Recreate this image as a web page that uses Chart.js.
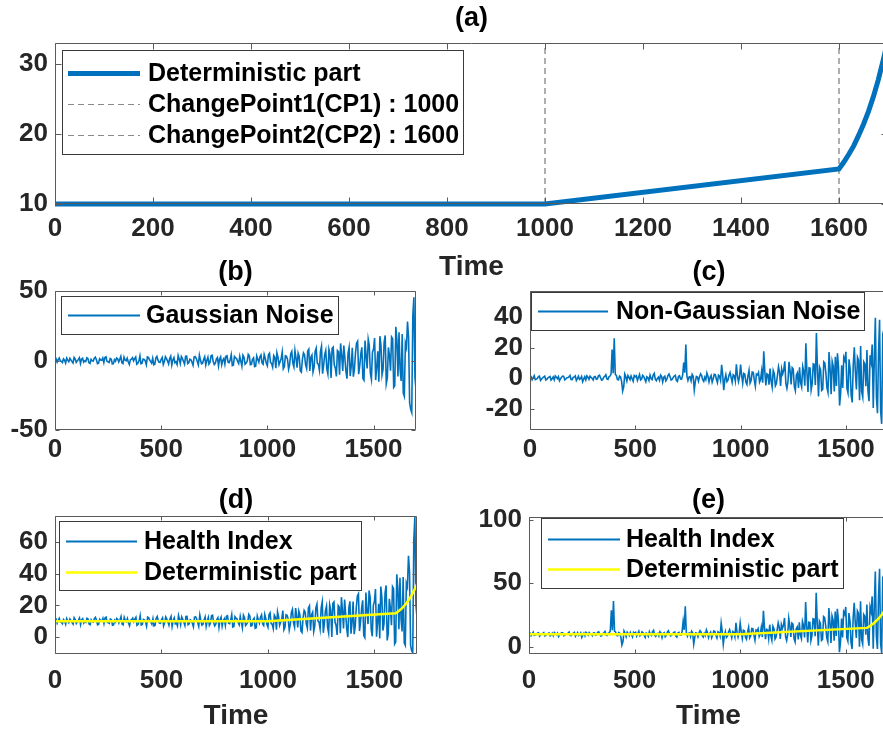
<!DOCTYPE html>
<html>
<head>
<meta charset="utf-8">
<script src="https://cdn.jsdelivr.net/npm/chart.js@4.4.0/dist/chart.umd.min.js"></script>
<style>
html, body { margin: 0; padding: 0; background: #fff; overflow: hidden; width: 883px; height: 733px; }
.panel { position: absolute; }
canvas { display: block; }
</style>
</head>
<body>
<div class="panel" style="left:0px;top:0px"><canvas id="chartA" width="900" height="290"></canvas></div>
<div class="panel" style="left:0px;top:245px"><canvas id="chartB" width="440" height="225"></canvas></div>
<div class="panel" style="left:460px;top:245px"><canvas id="chartC" width="440" height="225"></canvas></div>
<div class="panel" style="left:0px;top:470px"><canvas id="chartD" width="440" height="263"></canvas></div>
<div class="panel" style="left:460px;top:470px"><canvas id="chartE" width="440" height="263"></canvas></div>
<script>
// sampling grid of the noise / health index traces (every 5 time units)
const time = [
    0, 5, 10, 15, 20, 25, 30, 35, 40, 45, 50, 55, 60, 65, 70, 75, 80, 85, 90, 95,
    100, 105, 110, 115, 120, 125, 130, 135, 140, 145, 150, 155, 160, 165, 170, 175, 180, 185, 190, 195,
    200, 205, 210, 215, 220, 225, 230, 235, 240, 245, 250, 255, 260, 265, 270, 275, 280, 285, 290, 295,
    300, 305, 310, 315, 320, 325, 330, 335, 340, 345, 350, 355, 360, 365, 370, 375, 380, 385, 390, 395,
    400, 405, 410, 415, 420, 425, 430, 435, 440, 445, 450, 455, 460, 465, 470, 475, 480, 485, 490, 495,
    500, 505, 510, 515, 520, 525, 530, 535, 540, 545, 550, 555, 560, 565, 570, 575, 580, 585, 590, 595,
    600, 605, 610, 615, 620, 625, 630, 635, 640, 645, 650, 655, 660, 665, 670, 675, 680, 685, 690, 695,
    700, 705, 710, 715, 720, 725, 730, 735, 740, 745, 750, 755, 760, 765, 770, 775, 780, 785, 790, 795,
    800, 805, 810, 815, 820, 825, 830, 835, 840, 845, 850, 855, 860, 865, 870, 875, 880, 885, 890, 895,
    900, 905, 910, 915, 920, 925, 930, 935, 940, 945, 950, 955, 960, 965, 970, 975, 980, 985, 990, 995,
    1000, 1005, 1010, 1015, 1020, 1025, 1030, 1035, 1040, 1045, 1050, 1055, 1060, 1065, 1070, 1075, 1080, 1085, 1090, 1095,
    1100, 1105, 1110, 1115, 1120, 1125, 1130, 1135, 1140, 1145, 1150, 1155, 1160, 1165, 1170, 1175, 1180, 1185, 1190, 1195,
    1200, 1205, 1210, 1215, 1220, 1225, 1230, 1235, 1240, 1245, 1250, 1255, 1260, 1265, 1270, 1275, 1280, 1285, 1290, 1295,
    1300, 1305, 1310, 1315, 1320, 1325, 1330, 1335, 1340, 1345, 1350, 1355, 1360, 1365, 1370, 1375, 1380, 1385, 1390, 1395,
    1400, 1405, 1410, 1415, 1420, 1425, 1430, 1435, 1440, 1445, 1450, 1455, 1460, 1465, 1470, 1475, 1480, 1485, 1490, 1495,
    1500, 1505, 1510, 1515, 1520, 1525, 1530, 1535, 1540, 1545, 1550, 1555, 1560, 1565, 1570, 1575, 1580, 1585, 1590, 1595,
    1600, 1605, 1610, 1615, 1620, 1625, 1630, 1635, 1640, 1645, 1650, 1655, 1660, 1665, 1670, 1675, 1680, 1685, 1690, 1695,
    1700
];

// deterministic part (flat, linear after CP1, exponential after CP2)
const detTime = [0, 1000, 1600, 1610, 1620, 1630, 1640, 1650, 1660, 1670, 1680, 1690, 1700];
const detValue = [10, 10, 15, 16.0, 17.1, 18.3, 19.8, 21.4, 23.2, 25.3, 27.7, 30.5, 33.5];

const changePoints = [1000, 1600];

const gaussianNoise = [
    0.5, 1.3, -1.2, 0.6, 1.8, -0.4, -0.6, -1.5, 1.1, 0.2, -1.9, 1.7, 0.3, -0.9, 1.5, 0.4, -0.8, -1.8, 2.2, 1.1,
    -1.4, -0.3, 0.7, 2.0, -2.1, 0.9, 1.6, -1.2, -0.2, -0.7, 1.9, 1.4, -1.7, -2.2, 0.9, -0.1, -0.5, 1.6, 2.4, 0.5,
    -2.3, -1.9, 1.2, 0.3, 0.1, 1.8, -1.5, 2.1, 2.6, -0.6, -0.9, -1.4, 1.4, 0.9, -2.5, -2.3, 0.6, -0.5, 1.8, 1.2,
    -1.1, 0.8, 2.9, -1.7, -2.2, 2.4, 0.4, -0.2, 1.7, -1.1, -2.8, 0.6, 1.0, 2.0, -0.3, 1.3, 2.5, -2.6, -1.9, -0.4,
    3.4, -2.4, -2.0, 1.1, 0.8, -0.3, -3.1, 2.6, 2.2, 0.5, -0.6, -1.9, 1.6, -3.0, -2.6, 1.8, 3.0, 0.2, -1.2, -1.3,
    0.9, 2.2, -2.9, -0.8, 2.7, 1.3, -0.4, -2.5, 1.5, 3.1, -3.3, 0.4, 2.1, -1.6, -1.0, -2.9, 3.6, 1.0, -2.2, 2.8,
    1.3, -0.6, -2.7, 3.0, 3.1, -2.2, -1.6, 0.9, 0.5, -1.3, -3.5, 2.5, 2.8, 1.6, -0.8, -3.2, 3.9, 0.3, -2.4, -1.9,
    0.7, 2.7, -3.2, 0.1, 2.4, -2.6, -1.3, 3.4, 3.8, -0.8, -2.9, -1.9, 1.1, 2.2, -3.9, 0.9, 2.6, -3.1, 0.2, 1.5,
    -2.6, 3.1, 3.5, -1.2, -1.5, 0.6, 4.2, -3.6, -3.3, 2.9, 1.9, 1.4, -0.7, -2.2, 3.1, -0.5, -4.1, 3.8, 2.3, -2.7,
    -1.8, -0.6, 4.4, 3.3, -3.0, -2.8, 0.9, 1.9, -4.4, -4.1, 3.3, 0.8, -1.2, 2.6, 4.0, -1.7, -2.7, 4.3, 1.6, -2.0,
    -3.8, 4.1, 5.2, -1.5, -2.1, -4.8, 3.6, 2.3, -5.6, 5.6, 2.4, -3.0, -0.9, 1.2, 6.1, -6.0, -4.5, 3.4, 3.0, 0.7,
    -6.3, -2.9, 4.7, 6.5, -1.8, -4.6, 7.2, 1.8, -5.1, 5.3, 2.9, -7.4, -8.4, 0.9, 5.5, 4.2, -3.2, -5.8, 6.8, 8.1,
    -7.6, 2.4, 3.9, -8.3, -4.8, 6.6, 8.9, -1.9, -2.6, -6.9, 6.4, 10.2, -9.5, -3.5, 4.3, 7.3, -6.1, -9.8, 8.0, 4.6,
    -12.5, 8.8, 9.6, -3.1, -5.4, -11.4, 7.1, 6.2, -10.3, 12.3, 3.8, -7.5, 10.7, 1.9, -7.9, -13.1, 5.2, 9.4, -11.2, -4.2,
    9.1, -11.6, -6.5, 5.3, 12.4, 13.8, -9.8, -3.9, 4.6, 9.5, -12.9, -14.2, 14.3, 2.8, -5.7, 15.4, 11.0, -9.2, -13.6, 6.0,
    8.2, 16.2, -14.1, -4.8, 6.7, -15.3, 17.5, 10.9, -10.4, -6.2, 13.2, 18.0, -16.8, -12.6, 9.4, 3.7, -7.3, 16.9, 15.6, -19.4,
    -18.2, 24.2, 15.0, -11.5, 20.3, -6.3, -14.7, 19.0, -23.5, -25.8, 12.6, 9.4, 28.1, 16.5, -30.5, -35.2, -37.5, 32.0, 45.5, -12.0,
    -21.0
];

const nonGaussianNoise = [
    0.4, 0.9, -1.1, 0.3, 1.6, -1.0, -0.7, -0.2, 0.9, 1.2, -1.5, -0.6, 0.2, 0.7, 1.3, -1.3, -0.9, 0.1, 0.6, 1.0,
    -1.3, -0.5, 0.8, -1.1, 1.4, 0.6, -0.4, 0.9, -1.8, -0.4, 0.5, 1.3, 1.1, -1.2, -0.6, 0.2, 0.3, 0.8, 1.7, -0.9,
    -1.0, 0.5, 0.7, 1.4, -1.6, -0.3, 1.2, -0.9, -0.3, 1.1, -2.4, -0.7, 0.9, -1.2, 1.5, 0.6, -0.8, 1.3, 0.4, -0.2,
    -1.2, 0.9, 1.0, -0.8, -0.5, 1.5, 1.9, 0.2, -1.4, -1.0, 0.6, 1.1, 2.2, -0.6, -0.9, 0.8, 1.3, 2.6, 18.7, 3.1,
    26.0, 2.4, 1.8, -0.9, -1.2, 1.3, 0.7, -2.2, -8.5, -5.8, 2.6, 0.8, -1.9, 1.7, 0.5, -1.0, 1.4, -0.4, -2.1, 1.6,
    0.8, 1.5, -1.5, 0.4, 2.3, -1.2, -0.6, 1.8, 1.1, -0.7, -2.4, 0.9, 0.3, -1.6, 1.9, -0.3, -1.0, 2.0, 3.1, -0.8,
    -1.7, -0.2, 0.6, -1.4, 2.0, 1.1, -2.6, 0.5, 1.2, -1.9, -0.8, 1.6, 2.7, 0.8, -1.3, -0.9, 0.4, 1.3, 1.8, -1.5,
    -2.2, 1.0, 1.5, -0.6, -0.7, 2.1, 10.2, 3.5, 22.0, 1.4, -1.6, 0.6, 0.9, -1.8, 2.4, 1.2, -7.8, -2.3, 1.1, 0.7,
    -2.0, 0.9, 2.8, 1.6, -1.1, -2.2, 0.6, -1.0, 3.4, 1.3, -2.5, 0.4, 1.7, -2.7, -0.4, 2.5, 2.3, -0.8, -3.0, 1.9,
    1.2, -1.5, 8.7, 2.3, -7.9, -1.1, 2.1, -2.4, -1.4, 1.8, 3.6, 0.5, -2.8, 2.2, 1.5, -2.0, 9.0, 1.6, -2.3, 0.8,
    8.8, 1.9, -3.4, 3.0, 2.5, -2.6, -4.2, 1.4, 5.1, -3.3, -1.6, 4.0, 3.8, -1.2, -5.3, 2.6, 2.0, 3.7, -2.7, -0.9,
    4.6, -3.1, 17.5, 4.2, -4.9, 2.8, 2.2, -4.4, 6.3, -2.0, -6.0, 5.0, 3.1, -5.1, -3.5, 1.7, 7.4, 3.9, -5.2, 6.0,
    2.8, 5.3, 11.0, -3.6, -6.7, -2.2, 10.6, 4.7, -4.1, 6.8, 5.9, -5.5, -8.2, 2.0, 3.4, -6.4, 7.0, -3.0, -5.8, 7.5,
    4.2, -5.0, 22.7, 3.9, -9.1, 6.7, 6.5, -7.8, -3.7, 9.3, 8.9, -4.6, 29.5, 5.8, -12.0, 7.2, 5.3, -8.1, -7.4, 10.6,
    9.8, 3.2, -6.3, -9.4, 17.0, 6.1, -10.5, 10.8, 7.6, -8.7, 14.0, -5.1, 16.2, 7.4, -18.0, -10.2, 8.4, -6.5, 13.5, 11.6,
    17.2, -6.8, -9.7, 12.3, 6.1, -11.0, -16.0, 8.5, 20.1, 4.2, -7.5, 13.7, 11.8, -14.5, 21.0, -8.9, -12.4, 10.6, 9.2, -5.4,
    18.3, -8.7, -15.1, 14.9, 10.7, 22.0, -19.6, 12.6, 39.5, -12.4, -23.0, 16.1, 38.2, -21.6, -30.0, 27.3, 24.5, -26.0, 55.6, 36.0,
    -33.5
];

// health index with gaussian noise, panel (d)
const healthIndexGauss = [
    10.5, 11.3, 8.8, 10.6, 11.8, 9.6, 9.4, 8.5, 11.1, 10.2, 8.1, 11.7, 10.3, 9.1, 11.5, 10.4, 9.2, 8.2, 12.2, 11.1,
    8.6, 9.7, 10.7, 12.0, 7.9, 10.9, 11.6, 8.8, 9.8, 9.3, 11.9, 11.4, 8.3, 7.8, 10.9, 9.9, 9.5, 11.6, 12.4, 10.5,
    7.7, 8.1, 11.2, 10.3, 10.1, 11.8, 8.5, 12.1, 12.6, 9.4, 9.1, 8.6, 11.4, 10.9, 7.5, 7.7, 10.6, 9.5, 11.8, 11.2,
    8.9, 10.8, 12.9, 8.3, 7.8, 12.4, 10.4, 9.8, 11.7, 8.9, 7.2, 10.6, 11.0, 12.0, 9.7, 11.3, 12.5, 7.4, 8.1, 9.6,
    13.4, 7.6, 8.0, 11.1, 10.8, 9.7, 6.9, 12.6, 12.2, 10.5, 9.4, 8.1, 11.6, 7.0, 7.4, 11.8, 13.0, 10.2, 8.8, 8.7,
    10.9, 12.2, 7.1, 9.2, 12.7, 11.3, 9.6, 7.5, 11.5, 13.1, 6.7, 10.4, 12.1, 8.4, 9.0, 7.1, 13.6, 11.0, 7.8, 12.8,
    11.3, 9.4, 7.3, 13.0, 13.1, 7.8, 8.4, 10.9, 10.5, 8.7, 6.5, 12.5, 12.8, 11.6, 9.2, 6.8, 13.9, 10.3, 7.6, 8.1,
    10.7, 12.7, 6.8, 10.1, 12.4, 7.4, 8.7, 13.4, 13.8, 9.2, 7.1, 8.1, 11.1, 12.2, 6.1, 10.9, 12.6, 6.9, 10.2, 11.5,
    7.4, 13.1, 13.5, 8.8, 8.5, 10.6, 14.2, 6.4, 6.7, 12.9, 11.9, 11.4, 9.3, 7.8, 13.1, 9.5, 5.9, 13.8, 12.3, 7.3,
    8.2, 9.4, 14.4, 13.3, 7.0, 7.2, 10.9, 11.9, 5.6, 5.9, 13.3, 10.8, 8.8, 12.6, 14.0, 8.3, 7.3, 14.3, 11.6, 8.0,
    6.2, 14.1, 15.3, 8.6, 8.1, 5.4, 13.9, 12.6, 4.7, 16.0, 12.8, 7.5, 9.6, 11.7, 16.7, 4.6, 6.2, 14.1, 13.8, 11.5,
    4.5, 8.0, 15.6, 17.5, 9.2, 6.4, 18.3, 12.9, 6.1, 16.5, 14.2, 3.9, 2.9, 12.3, 16.9, 15.7, 8.3, 5.7, 18.4, 19.7,
    4.1, 14.1, 15.7, 3.5, 7.0, 18.5, 20.8, 10.1, 9.4, 5.1, 18.5, 22.3, 2.7, 8.7, 16.6, 19.6, 6.2, 2.6, 20.4, 17.1,
    0.0, 21.3, 22.2, 9.5, 7.3, 1.3, 19.9, 19.0, 2.5, 25.2, 16.7, 5.5, 23.7, 14.9, 5.2, 0.0, 18.4, 22.6, 2.1, 9.1,
    22.4, 1.8, 6.9, 18.8, 25.9, 27.3, 3.8, 9.7, 18.3, 23.2, 0.9, -0.4, 28.1, 16.7, 8.2, 29.4, 25.0, 4.8, 0.5, 20.1,
    22.4, 30.4, 0.2, 9.5, 21.0, -0.9, 31.9, 25.4, 4.1, 8.3, 27.8, 32.6, -2.1, 2.1, 24.2, 18.5, 7.5, 31.8, 30.5, -4.4,
    -3.2, 39.7, 31.0, 5.0, 37.4, 11.4, 3.6, 38.0, -3.7, -5.2, 34.0, 31.7, 51.3, 40.7, -5.2, -8.7, -9.8, 61.1, 76.0, 20.0,
    12.5
];

// health index with non-gaussian noise, panel (e)
const healthIndexNonGauss = [
    10.4, 10.9, 8.9, 10.3, 11.6, 9.0, 9.3, 9.8, 10.9, 11.2, 8.5, 9.4, 10.2, 10.7, 11.3, 8.7, 9.1, 10.1, 10.6, 11.0,
    8.7, 9.5, 10.8, 8.9, 11.4, 10.6, 9.6, 10.9, 8.2, 9.6, 10.5, 11.3, 11.1, 8.8, 9.4, 10.2, 10.3, 10.8, 11.7, 9.1,
    9.0, 10.5, 10.7, 11.4, 8.4, 9.7, 11.2, 9.1, 9.7, 11.1, 7.6, 9.3, 10.9, 8.8, 11.5, 10.6, 9.2, 11.3, 10.4, 9.8,
    8.8, 10.9, 11.0, 9.2, 9.5, 11.5, 11.9, 10.2, 8.6, 9.0, 10.6, 11.1, 12.2, 9.4, 9.1, 10.8, 11.3, 12.6, 28.7, 13.1,
    36.0, 12.4, 11.8, 9.1, 8.8, 11.3, 10.7, 7.8, 1.5, 4.2, 12.6, 10.8, 8.1, 11.7, 10.5, 9.0, 11.4, 9.6, 7.9, 11.6,
    10.8, 11.5, 8.5, 10.4, 12.3, 8.8, 9.4, 11.8, 11.1, 9.3, 7.6, 10.9, 10.3, 8.4, 11.9, 9.7, 9.0, 12.0, 13.1, 9.2,
    8.3, 9.8, 10.6, 8.6, 12.0, 11.1, 7.4, 10.5, 11.2, 8.1, 9.2, 11.6, 12.7, 10.8, 8.7, 9.1, 10.4, 11.3, 11.8, 8.5,
    7.8, 11.0, 11.5, 9.4, 9.3, 12.1, 20.2, 13.5, 32.0, 11.4, 8.4, 10.6, 10.9, 8.2, 12.4, 11.2, 2.2, 7.7, 11.1, 10.7,
    8.0, 10.9, 12.8, 11.6, 8.9, 7.8, 10.6, 9.0, 13.4, 11.3, 7.5, 10.4, 11.7, 7.3, 9.6, 12.5, 12.3, 9.2, 7.0, 11.9,
    11.2, 8.5, 18.7, 12.3, 2.1, 8.9, 12.1, 7.6, 8.6, 11.8, 13.6, 10.5, 7.2, 12.2, 11.5, 8.0, 19.0, 11.6, 7.7, 10.8,
    18.8, 11.9, 6.7, 13.1, 12.7, 7.6, 6.1, 11.7, 15.4, 7.1, 8.8, 14.5, 14.3, 9.3, 5.3, 13.2, 12.7, 14.4, 8.1, 9.9,
    15.4, 7.8, 28.4, 15.2, 6.1, 13.8, 13.3, 6.7, 17.5, 9.2, 5.3, 16.3, 14.4, 6.3, 7.9, 13.2, 18.9, 15.4, 6.4, 17.6,
    14.5, 17.0, 22.8, 8.2, 5.1, 9.7, 22.5, 16.7, 7.9, 18.8, 18.0, 6.6, 4.0, 14.2, 15.7, 5.9, 19.3, 9.4, 6.6, 20.0,
    16.7, 7.5, 35.3, 16.5, 3.6, 19.4, 19.3, 5.0, 9.1, 22.2, 21.8, 8.4, 42.5, 18.8, 1.1, 20.3, 18.5, 5.1, 5.9, 23.9,
    23.1, 16.6, 7.1, 4.1, 30.5, 19.6, 3.1, 24.4, 21.3, 5.0, 27.8, 8.7, 30.0, 21.3, -4.1, 3.8, 22.4, 7.5, 27.6, 25.7,
    31.4, 7.4, 4.6, 26.6, 20.4, 3.4, -1.6, 23.0, 34.6, 18.7, 7.1, 28.3, 26.5, 0.2, 35.8, 5.9, 2.4, 25.5, 24.1, 9.6,
    33.3, 6.8, 0.9, 31.4, 27.8, 39.7, -1.3, 31.6, 59.3, 8.2, -1.6, 38.4, 61.4, 2.6, -4.7, 53.8, 52.2, 3.1, 86.1, 68.0,
    0.0
];

// axis limits and tick labels
const timeRange = [0, 1700];
const timeTicksA = [0, 200, 400, 600, 800, 1000, 1200, 1400, 1600];
const timeTicks = [0, 500, 1000, 1500];
const rangeA = [10, 33];
const ticksA = [10, 20, 30];
const rangeB = [-50, 50];
const ticksB = [-50, 0, 50];
const rangeC = [-34, 57];
const ticksC = [-20, 0, 20, 40];
const rangeD = [-10.7, 76.5];
const ticksD = [0, 20, 40, 60];
const rangeE = [-5.5, 102];
const ticksE = [0, 50, 100];

const BLUE = '#0072BD';
const YELLOW = '#FFFF00';
const DASH_GREY = '#5f5f5f';
const AXIS_COLOR = '#262626';
const FONT = '"Liberation Sans", Arial, Helvetica, sans-serif';
const NOISE_WIDTH = 1.6;

Chart.defaults.font.family = FONT;
Chart.defaults.font.weight = 'bold';
Chart.defaults.color = AXIS_COLOR;

const toPoints = (xs, ys) => xs.map((x, i) => ({ x: x, y: ys[i] }));

// matlab-like box around the axes with inward ticks
const axesFrame = {
    id: 'axesFrame',
    afterDatasetsDraw(chart, args, opts) {
        const { ctx, chartArea: a } = chart;
        const xs = chart.scales.x, ys = chart.scales.y;
        const len = opts.tickLength || 4;
        const l = Math.round(a.left) + 0.5, r = Math.round(a.right) - 0.5;
        const t = Math.round(a.top) + 0.5, b = Math.round(a.bottom) - 0.5;
        ctx.save();
        ctx.strokeStyle = '#5a5a5a';
        ctx.lineWidth = 1;
        ctx.setLineDash([]);
        ctx.beginPath();
        ctx.rect(l, t, r - l, b - t);
        xs.ticks.forEach(tk => {
            const px = Math.round(xs.getPixelForValue(tk.value)) + 0.5;
            ctx.moveTo(px, b); ctx.lineTo(px, b - len);
            ctx.moveTo(px, t); ctx.lineTo(px, t + len);
        });
        ys.ticks.forEach(tk => {
            const py = Math.round(ys.getPixelForValue(tk.value)) + 0.5;
            ctx.moveTo(l, py); ctx.lineTo(l + len, py);
            ctx.moveTo(r, py); ctx.lineTo(r - len, py);
        });
        ctx.stroke();
        ctx.restore();
    }
};

// legend drawn inside the axes, in a white box
const boxLegend = {
    id: 'boxLegend',
    afterDraw(chart, args, o) {
        if (!o.rows) return;
        const { ctx, chartArea: a } = chart;
        const bx = Math.round(a.left + o.x) + 0.5, by = Math.round(a.top + o.y) + 0.5;
        ctx.save();
        ctx.fillStyle = '#fff';
        ctx.fillRect(bx, by, o.w, o.h);
        ctx.strokeStyle = '#3a3a3a';
        ctx.lineWidth = 1;
        ctx.strokeRect(bx, by, o.w, o.h);
        ctx.font = 'bold 25px ' + FONT;
        ctx.textBaseline = 'middle';
        o.rows.forEach(row => {
            const ds = chart.data.datasets[row.dataset];
            const y = Math.round(a.top + row.y) + 0.5;
            ctx.beginPath();
            ctx.setLineDash(ds.borderDash || []);
            ctx.strokeStyle = row.color || ds.borderColor;
            ctx.lineWidth = row.lineWidth || ds.borderWidth;
            ctx.moveTo(a.left + o.lineX0, y);
            ctx.lineTo(a.left + o.lineX1, y);
            ctx.stroke();
            ctx.setLineDash([]);
            ctx.fillStyle = '#000';
            ctx.fillText(ds.label, a.left + o.textX, y + 1);
        });
        ctx.restore();
    }
};

function makePanel(id, cfg) {
    const ctx = document.getElementById(id).getContext('2d');
    return new Chart(ctx, {
        type: 'line',
        data: { datasets: cfg.datasets },
        plugins: [axesFrame, boxLegend],
        options: {
            responsive: false,
            animation: false,
            devicePixelRatio: 1,
            events: [],
            layout: { padding: { left: 0, right: cfg.padRight, top: 0, bottom: 0 } },
            elements: { point: { radius: 0 }, line: { tension: 0 } },
            scales: {
                x: {
                    type: 'linear',
                    min: timeRange[0],
                    max: timeRange[1],
                    grid: { display: false, drawTicks: false },
                    border: { display: false },
                    ticks: {
                        padding: cfg.xPad,
                        autoSkip: false,
                        maxRotation: 0,
                        font: { size: 26, weight: 'bold', lineHeight: 1 },
                        color: AXIS_COLOR,
                        callback: v => String(v)
                    },
                    title: cfg.xTitle ? {
                        display: true,
                        text: 'Time',
                        font: { size: 28, weight: 'bold', lineHeight: 1 },
                        padding: { top: 0, bottom: cfg.xTitlePad },
                        color: AXIS_COLOR
                    } : { display: false },
                    afterBuildTicks: s => { s.ticks = cfg.xTicks.map(v => ({ value: v })); },
                    afterFit: s => { s.height = cfg.xHeight; }
                },
                y: {
                    type: 'linear',
                    min: cfg.yRange[0],
                    max: cfg.yRange[1],
                    grid: { display: false, drawTicks: false },
                    border: { display: false },
                    ticks: {
                        padding: 7,
                        font: { size: 26, weight: 'bold', lineHeight: 1 },
                        color: AXIS_COLOR,
                        callback: v => String(v)
                    },
                    afterBuildTicks: s => { s.ticks = cfg.yTicks.map(v => ({ value: v })); },
                    afterFit: s => { s.width = cfg.yWidth; }
                }
            },
            plugins: {
                legend: { display: false },
                tooltip: { enabled: false },
                title: {
                    display: true,
                    text: cfg.title,
                    fullSize: false,
                    color: '#000',
                    font: { size: 27, weight: 'bold', lineHeight: 1 },
                    padding: cfg.titlePad
                },
                axesFrame: { tickLength: cfg.tickLength },
                boxLegend: cfg.legend
            }
        }
    });
}

const cpDatasets = changePoints.map((cp, i) => ({
    label: 'ChangePoint' + (i + 1) + '(CP' + (i + 1) + ') : ' + cp,
    data: [{ x: cp, y: rangeA[0] }, { x: cp, y: rangeA[1] }],
    borderColor: DASH_GREY,
    borderWidth: 1,
    borderDash: [6, 4],
    order: 2
}));

makePanel('chartA', {
    title: '(a)',
    titlePad: { top: 5, bottom: 11 },
    padRight: 12,
    yWidth: 55,
    xHeight: 86,
    xPad: 12,
    xTitle: true,
    xTitlePad: 9,
    xTicks: timeTicksA,
    yRange: rangeA,
    yTicks: ticksA,
    tickLength: 6,
    datasets: [{
        label: 'Deterministic part',
        data: toPoints(detTime, detValue),
        borderColor: BLUE,
        borderWidth: 5,
        clip: 4,
        order: 1
    }].concat(cpDatasets),
    legend: {
        x: 7, y: 7, w: 401, h: 104, lineX0: 13, lineX1: 85, textX: 93,
        rows: [
            { dataset: 0, y: 30 },
            { dataset: 1, y: 61, color: '#8a8a8a' },
            { dataset: 2, y: 92, color: '#8a8a8a' }
        ]
    }
});

makePanel('chartB', {
    title: '(b)',
    titlePad: { top: 14.5, bottom: 4.5 },
    padRight: 24,
    yWidth: 55,
    xHeight: 40,
    xPad: 7,
    xTitle: false,
    xTicks: timeTicks,
    yRange: rangeB,
    yTicks: ticksB,
    tickLength: 4,
    datasets: [{
        label: 'Gaussian Noise',
        data: toPoints(time, gaussianNoise),
        borderColor: BLUE,
        borderWidth: NOISE_WIDTH
    }],
    legend: {
        x: 6, y: 5, w: 277, h: 38, lineX0: 13, lineX1: 85, textX: 91,
        rows: [{ dataset: 0, y: 24, lineWidth: 2 }]
    }
});

makePanel('chartC', {
    title: '(c)',
    titlePad: { top: 14.5, bottom: 4.5 },
    padRight: 12,
    yWidth: 70,
    xHeight: 40,
    xPad: 7,
    xTitle: false,
    xTicks: timeTicks,
    yRange: rangeC,
    yTicks: ticksC,
    tickLength: 4,
    datasets: [{
        label: 'Non-Gaussian Noise',
        data: toPoints(time, nonGaussianNoise),
        borderColor: BLUE,
        borderWidth: NOISE_WIDTH
    }],
    legend: {
        x: 1, y: 1, w: 333, h: 38, lineX0: 8, lineX1: 78, textX: 86,
        rows: [{ dataset: 0, y: 20, lineWidth: 2 }]
    }
});

makePanel('chartD', {
    title: '(d)',
    titlePad: { top: 17.5, bottom: 1.5 },
    padRight: 23,
    yWidth: 55,
    xHeight: 79,
    xPad: 14,
    xTitle: true,
    xTitlePad: 3,
    xTicks: timeTicks,
    yRange: rangeD,
    yTicks: ticksD,
    tickLength: 4,
    datasets: [{
        label: 'Health Index',
        data: toPoints(time, healthIndexGauss),
        borderColor: BLUE,
        borderWidth: NOISE_WIDTH,
        order: 2
    }, {
        label: 'Deterministic part',
        data: toPoints(detTime, detValue),
        borderColor: YELLOW,
        borderWidth: 2.5,
        order: 1
    }],
    legend: {
        x: 4, y: 5, w: 302, h: 69, lineX0: 11, lineX1: 82, textX: 89,
        rows: [{ dataset: 0, y: 25, lineWidth: 2 }, { dataset: 1, y: 56 }]
    }
});

makePanel('chartE', {
    title: '(e)',
    titlePad: { top: 17.5, bottom: 2.5 },
    padRight: 12,
    yWidth: 69,
    xHeight: 79,
    xPad: 14,
    xTitle: true,
    xTitlePad: 3,
    xTicks: timeTicks,
    yRange: rangeE,
    yTicks: ticksE,
    tickLength: 4,
    datasets: [{
        label: 'Health Index',
        data: toPoints(time, healthIndexNonGauss),
        borderColor: BLUE,
        borderWidth: NOISE_WIDTH,
        order: 2
    }, {
        label: 'Deterministic part',
        data: toPoints(detTime, detValue),
        borderColor: YELLOW,
        borderWidth: 2.5,
        order: 1
    }],
    legend: {
        x: 12, y: 1, w: 302, h: 70, lineX0: 19, lineX1: 91, textX: 97,
        rows: [{ dataset: 0, y: 22, lineWidth: 2 }, { dataset: 1, y: 52 }]
    }
});
</script>
</body>
</html>
